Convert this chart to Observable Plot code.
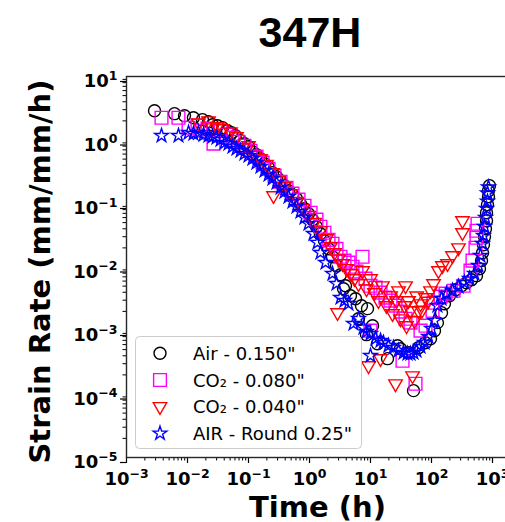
<!DOCTYPE html>
<html>
<head>
<meta charset="utf-8">
<script src="https://cdn.jsdelivr.net/npm/d3@7"></script>
<script src="https://cdn.jsdelivr.net/npm/@observablehq/plot@0.6"></script>
<style>
  body { margin: 0; background: #fff; width: 505px; height: 522px; overflow: hidden; position: relative; }
  #chart { position: absolute; left: 0; top: 0; width: 520px; height: 522px; }
  #chart svg { max-width: none !important; width: 520px !important; height: 522px !important; display: block; }
  #overlay { position: absolute; left: 0; top: 0; pointer-events: none; }
  #chart svg text { font-weight: bold; }
</style>
</head>
<body>
<div id="chart"></div>
<svg id="overlay" width="505" height="522"></svg>
<script>
// ---- Data (time in hours, strain rate in mm/mm/h) ----
const airTime = [0.00288,0.00612,0.00893,0.0125,0.0176,0.0221,0.0257,0.031,0.0375,0.0453,0.0526,0.0612,0.074,0.0859,0.1,0.116,0.135,0.157,0.183,0.213,0.247,0.288,0.335,0.389,0.453,0.526,0.612,0.711,0.828,0.963,1.12,1.30,1.51,1.76,2.05,2.38,2.77,3.22,3.61,3.89,4.70,5.68,6.36,7.11,8.59,8.93,10.8,13.0,19.0,27.7,31.0,42.0,50.7,61.2,79.8,96.3,112,125,146,163,197,247,310,375,453,547,612,661,686,711,739,767,798,798,828,859,859,893];
const airRate = [2.89,2.60,2.41,2.24,2.09,1.94,1.74,1.68,1.56,1.40,1.30,1.17,0.975,0.875,0.784,0.654,0.587,0.508,0.424,0.367,0.306,0.264,0.229,0.191,0.159,0.138,0.119,0.0993,0.0828,0.0691,0.0556,0.0431,0.0334,0.0259,0.0194,0.0145,0.0105,0.00757,0.00455,0.00507,0.00353,0.00317,0.00153,0.00246,0.00086,0.00221,0.00119,0.00062,0.00036,0.000576,0.000517,0.000447,0.000113,0.000536,0.000643,0.000743,0.000993,0.00133,0.00191,0.00264,0.00353,0.0044,0.00507,0.00566,0.00631,0.00729,0.0094,0.0126,0.0168,0.0224,0.030,0.0401,0.0536,0.0716,0.0957,0.128,0.159,0.191];

const co2080Time = [0.00375,0.00711,0.0104,0.0146,0.0163,0.0213,0.0267,0.0348,0.0435,0.0547,0.0686,0.0859,0.108,0.135,0.170,0.213,0.267,0.335,0.420,0.526,0.661,0.828,1.04,1.30,1.51,1.76,2.05,2.38,2.77,3.22,3.75,4.36,5.07,5.89,7.40,8.28,10,10,12.1,14.6,17.6,21.3,25.7,31.0,37.5,45.3,33.5,54.7,66.1,79.8,104,108,141,170,230,335,436,470,526,547,568,547];
const co2080Rate = [2.24,2.24,1.56,1.68,1.40,1.51,0.875,1.40,1.21,1.09,0.94,0.813,0.678,0.546,0.439,0.353,0.274,0.220,0.177,0.143,0.115,0.0923,0.0716,0.0556,0.0431,0.0346,0.0268,0.0232,0.0193,0.0145,0.0126,0.0117,0.0101,0.00844,0.0145,0.00655,0.00507,0.000993,0.00472,0.00394,0.00329,0.00295,0.00246,0.00198,0.00153,0.00133,0.000334,0.000145,0.000993,0.00119,0.00205,0.00274,0.00341,0.0038,0.00423,0.00507,0.00875,0.0126,0.0201,0.0289,0.048,0.0372];

const co2040Time = [0.0151,0.0221,0.0257,0.031,0.0375,0.0507,0.0635,0.0798,0.1,0.125,0.157,0.197,0.257,0.247,0.31,0.389,0.489,0.612,0.767,0.963,1.21,1.51,1.90,2.21,2.57,2.88,2.99,3.48,4.04,4.70,5.47,6.36,7.40,8.59,9.27,10,11.6,13.5,14.6,15.7,18.3,21.3,23.0,25.7,26.7,28.8,31.0,36.1,37.5,38.9,42.0,45.3,48.9,52.6,57.0,61.2,66.1,70.0,79.8,88.0,96.3,108,130,151,183,221,277,322,322];
const co2040Rate = [1.87,2.01,1.56,1.62,1.51,1.35,1.13,0.757,0.813,0.574,0.508,0.414,0.133,0.306,0.229,0.184,0.143,0.108,0.0841,0.0652,0.0506,0.0372,0.0279,0.0209,0.0168,0.00191,0.0135,0.0113,0.0094,0.00785,0.00655,0.00546,0.00875,0.00455,0.000279,0.00655,0.00394,0.00295,0.00036,0.00507,0.00246,0.00353,0.00184,0.000145,0.00295,0.00423,0.00153,0.00246,0.00507,0.00119,0.00295,0.00205,0.000194,0.00143,0.0035,0.00205,0.00264,0.0021,0.00329,0.0029,0.00423,0.00546,0.00875,0.0105,0.0113,0.0151,0.0201,0.0347,0.0536];

const roundTime = [0.00375,0.00711,0.0104,0.0125,0.0151,0.0183,0.0221,0.0257,0.0299,0.0348,0.0405,0.047,0.0547,0.0635,0.074,0.0859,0.1,0.116,0.135,0.157,0.183,0.213,0.247,0.288,0.335,0.389,0.453,0.526,0.612,0.711,0.828,0.963,1.16,1.35,1.51,1.83,2.38,2.77,3.22,3.75,4.36,5.26,6.36,7.67,8.59,10,10,12.1,14.6,16.3,19.7,23.8,28.8,34.8,40.4,45.3,50.7,56.8,66.1,76.7,89.3,100,112,125,146,176,221,277,347,420,507,589,635,686,711,739,767,798,828,828,859];
const roundRate = [1.17,1.17,1.30,1.26,1.30,1.21,1.17,1.13,1.09,1.01,0.906,0.875,0.784,0.729,0.678,0.609,0.566,0.508,0.439,0.38,0.329,0.284,0.246,0.213,0.177,0.153,0.128,0.107,0.0891,0.0743,0.0598,0.0481,0.0334,0.0242,0.0168,0.0117,0.00785,0.00546,0.00329,0.00295,0.00264,0.00128,0.00153,0.00111,0.000957,0.000891,0.000401,0.000743,0.000691,0.000643,0.000576,0.000536,0.000481,0.000447,0.000431,0.000431,0.000447,0.000481,0.000556,0.000643,0.000798,0.00107,0.00143,0.00246,0.00317,0.0038,0.00423,0.0049,0.00566,0.00655,0.00785,0.0105,0.0151,0.0232,0.0311,0.0431,0.0598,0.0828,0.108,0.145,0.18];

const seriesNames = ['Air - 0.150"', 'CO\u2082 - 0.080"', 'CO\u2082 - 0.040"', 'AIR - Round 0.25"'];
const majorX = [1e-3, 1e-2, 1e-1, 1, 10, 100, 1000];
const majorY = [1e-5, 1e-4, 1e-3, 1e-2, 1e-1, 1, 10];
const titleText = "347H";
const xLabel = "Time (h)";
const yLabel = "Strain Rate (mm/mm/h)";

// ---- Build tables ----
const toRows = (ts, rs) => ts.map((t, i) => ({t, r: rs[i]}));
const air = toRows(airTime, airRate);
const co2080 = toRows(co2080Time, co2080Rate);
const co2040 = toRows(co2040Time, co2040Rate);
const round = toRows(roundTime, roundRate);

const minor = (majors, maxV) => majors.flatMap(m => [2,3,4,5,6,7,8,9].map(k => k * m)).filter(v => v <= maxV);
const xMax = Math.pow(10, 3.4);
const minorX = minor(majorX, xMax);
const minorY = minor(majorY.slice(0, -1), 10);

// Tick label: "10^e"; the exponent is turned into a raised tspan after rendering
const fmtPow = d => "10^" + String(Math.round(Math.log10(d))).replace("-", "\u2212");

const styles = [
  {symbol: "circle", r: 6, stroke: "#000000", rotate: 0},
  {symbol: "square", r: 7.2, stroke: "#ff00ff", rotate: 0},
  {symbol: "triangle", r: 5, stroke: "#ff0000", rotate: 180},
  {symbol: "star", r: 4.3, stroke: "#0000ff", rotate: 0}
];
const datasets = [air, co2080, co2040, round];

const chart = Plot.plot({
  width: 520,
  height: 522,
  marginLeft: 126,
  marginRight: 3.6,
  marginTop: 76,
  marginBottom: 65,
  style: {fontFamily: "DejaVu Sans", background: "transparent", color: "#000", maxWidth: "none"},
  x: {type: "log", domain: [1e-3, xMax]},
  y: {type: "log", domain: [1e-5, 10]},
  marks: [
    Plot.axisY(minorY, {tickSize: 3.5, tickFormat: () => "", label: null, strokeWidth: 1}),
    Plot.axisY(majorY, {tickSize: 6, tickFormat: fmtPow, fontSize: 18, fontWeight: "bold", label: null, strokeWidth: 1.2, tickPadding: 3, dy: 5}),
    Plot.axisX(minorX, {tickSize: 3.5, tickFormat: () => "", label: null, strokeWidth: 1}),
    Plot.axisX(majorX, {tickSize: 6, tickFormat: fmtPow, fontSize: 18, fontWeight: "bold", label: null, strokeWidth: 1.2, tickPadding: 9, dy: 0}),
    ...datasets.map((data, i) => Plot.dot(data, {
      x: "t", y: "r",
      symbol: styles[i].symbol,
      r: styles[i].r,
      rotate: styles[i].rotate,
      stroke: styles[i].stroke,
      fill: "none",
      strokeWidth: 1.4
    })),
    Plot.frame({stroke: "#262626", strokeWidth: 1.4})
  ]
});
document.getElementById("chart").appendChild(chart);

// raise the exponents of the tick labels (mathtext-like)
d3.select(chart).selectAll("text").each(function () {
  const s = this.textContent;
  if (s.includes("^")) {
    const [base, exp] = s.split("^");
    this.textContent = base;
    d3.select(this).append("tspan").attr("font-size", 12.5).attr("dy", -7.3).text(exp);
  }
});

// ---- Overlay: title, axis labels, legend ----
const ov = d3.select("#overlay");
ov.append("text").attr("x", 310).attr("y", 46.5).attr("text-anchor", "middle")
  .attr("font-family", "Liberation Sans, Arial, sans-serif").attr("font-weight", "bold").attr("font-size", 43)
  .text(titleText);
ov.append("text").attr("transform", "translate(50,271.5) rotate(-90)").attr("text-anchor", "middle")
  .attr("font-family", "DejaVu Sans").attr("font-weight", "bold").attr("font-size", 29)
  .text(yLabel);
ov.append("text").attr("x", 317.5).attr("y", 517).attr("text-anchor", "middle")
  .attr("font-family", "DejaVu Sans").attr("font-weight", "bold").attr("font-size", 29)
  .text(xLabel);

const lg = ov.append("g");
lg.append("rect").attr("x", 135.5).attr("y", 336.5).attr("width", 226).attr("height", 112).attr("rx", 4)
  .attr("fill", "#fff").attr("fill-opacity", 0.8).attr("stroke", "#cccccc").attr("stroke-width", 1);
const symMap = {circle: d3.symbolCircle, square: d3.symbolSquare, triangle: d3.symbolTriangle, star: d3.symbolStar};
const rowY = [353.3, 380, 406.5, 433.3];
seriesNames.forEach((name, i) => {
  const s = styles[i];
  lg.append("path")
    .attr("d", d3.symbol(symMap[s.symbol], s.r * s.r * Math.PI)())
    .attr("transform", `translate(160,${rowY[i]}) rotate(${s.rotate})`)
    .attr("fill", "none").attr("stroke", s.stroke).attr("stroke-width", 1.4);
  lg.append("text").attr("x", 193).attr("y", rowY[i] + 6.5)
    .attr("font-family", "DejaVu Sans").attr("font-size", 18).attr("fill", "#000")
    .text(name);
});
</script>
</body>
</html>
